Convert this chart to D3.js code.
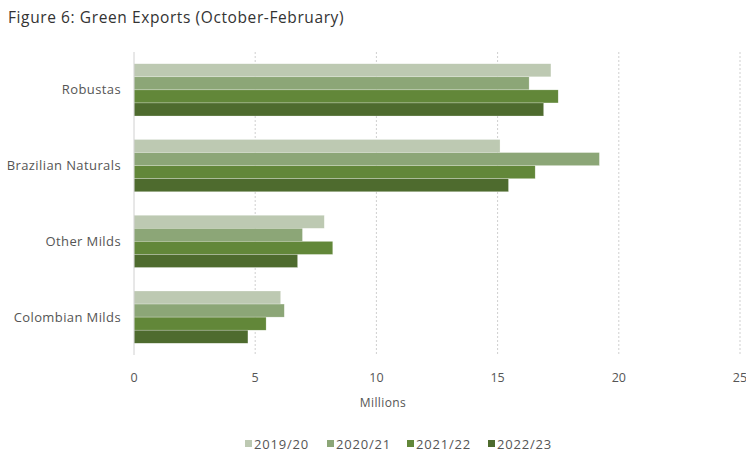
<!DOCTYPE html>
<html>
<head>
<meta charset="utf-8">
<script src="https://cdn.jsdelivr.net/npm/d3@7"></script>
<style>
  body { margin: 0; background: #fff; }
  svg { display: block; font-family: "Open Sans", "Lato", sans-serif; }
</style>
</head>
<body>
<script>
const categories = ["Robustas", "Brazilian Naturals", "Other Milds", "Colombian Milds"];
const seasons = ["2019/20", "2020/21", "2021/22", "2022/23"];
const colors = ["#bdc9b2", "#8ca677", "#628739", "#4e6b2e"];

// values in millions, per category, in season order
const robustas = [17.2, 16.3, 17.5, 16.9];
const brazilianNaturals = [15.1, 19.2, 16.55, 15.45];
const otherMilds = [7.85, 6.95, 8.2, 6.75];
const colombianMilds = [6.05, 6.2, 5.45, 4.7];

const xTicks = [0, 5, 10, 15, 20, 25];

const values = [robustas, brazilianNaturals, otherMilds, colombianMilds];
const data = categories.map((c, i) => ({ category: c, values: values[i] }));

const W = 746, H = 452;
const plot = { left: 134, right: 740, top: 52, bottom: 355 };

const svg = d3.select("body").append("svg").attr("width", W).attr("height", H);

svg.append("text")
  .attr("x", 8).attr("y", 23)
  .attr("font-size", 15.5)
  .attr("letter-spacing", 0.6)
  .attr("fill", "#333")
  .text("Figure 6: Green Exports (October-February)");

const x = d3.scaleLinear().domain([0, 25]).range([plot.left, plot.right]);
const y = d3.scaleBand().domain(categories).range([plot.top, plot.bottom]).paddingInner(0.31).paddingOuter(0.155);
const ySub = d3.scaleBand().domain(seasons).range([0, y.bandwidth()]);

// gridlines
svg.append("g")
  .selectAll("line")
  .data(xTicks.filter((d) => d > 0))
  .join("line")
  .attr("x1", (d) => x(d)).attr("x2", (d) => x(d))
  .attr("y1", plot.top).attr("y2", plot.bottom)
  .attr("stroke", "#cfcfcf")
  .attr("stroke-width", 1)
  .attr("stroke-dasharray", "2,2");

// bars
const groups = svg.append("g")
  .selectAll("g")
  .data(data)
  .join("g")
  .attr("transform", (d) => `translate(0,${y(d.category)})`);

groups.selectAll("rect")
  .data((d) => d.values.map((v, i) => ({ season: seasons[i], value: v, color: colors[i] })))
  .join("rect")
  .attr("x", x(0))
  .attr("y", (d) => ySub(d.season))
  .attr("width", (d) => x(d.value) - x(0))
  .attr("height", ySub.bandwidth())
  .attr("fill", (d) => d.color)
  .attr("stroke", "rgba(255,255,255,0.5)")
  .attr("stroke-width", 0.5);

// vertical axis line
svg.append("line")
  .attr("x1", x(0)).attr("x2", x(0))
  .attr("y1", plot.top).attr("y2", plot.bottom)
  .attr("stroke", "#d0d0d0");

// category labels
svg.append("g")
  .selectAll("text")
  .data(categories)
  .join("text")
  .attr("x", 121)
  .attr("y", (d) => y(d) + y.bandwidth() / 2)
  .attr("dy", "0.35em")
  .attr("text-anchor", "end")
  .attr("font-size", 13)
  .attr("letter-spacing", 0.4)
  .attr("fill", "#555")
  .text((d) => d);

// x tick labels
svg.append("g")
  .selectAll("text")
  .data(xTicks)
  .join("text")
  .attr("x", (d) => x(d))
  .attr("y", 382)
  .attr("text-anchor", "middle")
  .attr("font-size", 12.5)
  .attr("fill", "#555")
  .text((d) => d);

svg.append("text")
  .attr("x", 383).attr("y", 407)
  .attr("text-anchor", "middle")
  .attr("font-size", 12)
  .attr("letter-spacing", 0.4)
  .attr("fill", "#555")
  .text("Millions");

// legend
const legendX = [245, 327, 407, 488];
const legend = svg.append("g")
  .selectAll("g")
  .data(seasons)
  .join("g")
  .attr("transform", (d, i) => `translate(${legendX[i]},444)`);

legend.append("rect")
  .attr("x", 0).attr("y", -4)
  .attr("width", 7).attr("height", 7)
  .attr("fill", (d, i) => colors[i]);

legend.append("text")
  .attr("x", 9).attr("y", 0)
  .attr("dy", "0.35em")
  .attr("font-size", 13)
  .attr("letter-spacing", 0.8)
  .attr("fill", "#555")
  .text((d) => d);
</script>
</body>
</html>
